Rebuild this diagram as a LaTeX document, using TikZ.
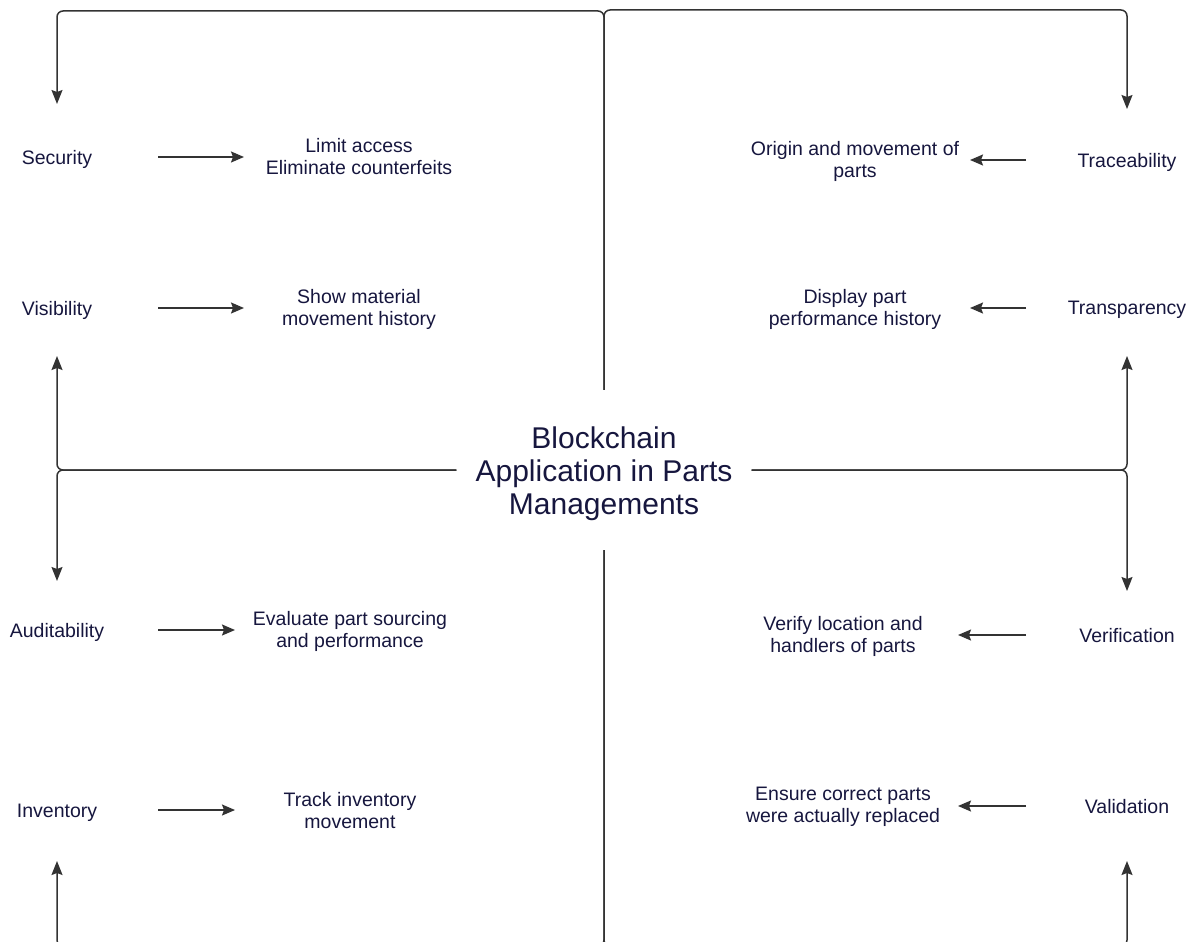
\documentclass[tikz,border=0pt]{standalone}
\usepackage{fontspec}
\setmainfont{Liberation Sans}
\usetikzlibrary{arrows.meta}
\definecolor{txt}{RGB}{22,22,62}
\definecolor{ln}{RGB}{51,51,51}
\begin{document}
\begin{tikzpicture}[x=1pt,y=-1pt,
 lbl/.style={text=txt,font=\fontsize{19.5}{22}\selectfont,align=center,inner sep=0pt},
 key/.style={lbl,anchor=base},
 trunk/.style={draw=ln,line width=1.5pt,rounded corners=6pt},
 tip/.style={-{Stealth[length=14pt,width=11pt,inset=2pt]}},
 harr/.style={draw=ln,line width=1.6pt,-{Stealth[length=13pt,width=11pt,inset=2pt]}}]
\useasboundingbox (0,0) rectangle (1191,942);
\clip (0,0) rectangle (1191,942);

% centre
\node[minimum width=295pt,minimum height=160pt,inner sep=0pt] (c) at (604,470) {};
\node[lbl,font=\fontsize{30}{33}\selectfont] (ctext) at (604,474) {Blockchain\\Application in Parts\\Managements};

% left column
\node[key] (sec) at (57,164) {Security};
\node[key] (vis) at (57,315) {Visibility};
\node[key] (aud) at (57,637) {Auditability};
\node[key] (inv) at (57,817) {Inventory};
\node[lbl] (secd) at (359,157) {Limit access\\Eliminate counterfeits};
\node[lbl] (visd) at (359,309) {Show material\\movement history};
\node[lbl] (audd) at (350,631) {Evaluate part sourcing\\and performance};
\node[lbl] (invd) at (350,811) {Track inventory\\movement};

% right column
\node[key] (tra) at (1127,167) {Traceability};
\node[key] (trp) at (1127,314) {Transparency};
\node[key] (ver) at (1127,642) {Verification};
\node[key] (val) at (1127,813) {Validation};
\node[lbl] (trad) at (855,161) {Origin and movement of\\parts};
\node[lbl] (trpd) at (855,309) {Display part\\performance history};
\node[lbl] (verd) at (843,636) {Verify location and\\handlers of parts};
\node[lbl] (vald) at (843,807) {Ensure correct parts\\were actually replaced};

% arrow tip coordinates
\coordinate (tsec) at (57,104);
\coordinate (tvis) at (57,356);
\coordinate (taud) at (57,581);
\coordinate (tinv) at (57,861);
\coordinate (ttra) at (1127,109);
\coordinate (ttrp) at (1127,356);
\coordinate (tver) at (1127,591);
\coordinate (tval) at (1127,861);

% trunks
\draw[trunk,tip] (c.north) -- (604,11) -- (57,11) -- (tsec);
\draw[trunk,tip] (c.north) -- (604,10) -- (1127,10) -- (ttra);
\draw[trunk,tip] (c.west) -- (57,470) -- (tvis);
\draw[trunk,tip] (c.west) -- (57,470) -- (taud);
\draw[trunk,tip] (c.east) -- (1127,470) -- (ttrp);
\draw[trunk,tip] (c.east) -- (1127,470) -- (tver);
\draw[trunk,tip] (c.south) -- (604,946) -- (57,946) -- (tinv);
\draw[trunk,tip] (c.south) -- (604,946) -- (1127,946) -- (tval);

% horizontal arrow ends
\coordinate (s1) at (158,157); \coordinate (e1) at (244,157);
\coordinate (s2) at (158,308); \coordinate (e2) at (244,308);
\coordinate (s3) at (158,630); \coordinate (e3) at (235,630);
\coordinate (s4) at (158,810); \coordinate (e4) at (235,810);
\coordinate (s5) at (1026,160); \coordinate (e5) at (970,160);
\coordinate (s6) at (1026,308); \coordinate (e6) at (970,308);
\coordinate (s7) at (1026,635); \coordinate (e7) at (958,635);
\coordinate (s8) at (1026,806); \coordinate (e8) at (958,806);
\foreach \i in {1,...,8} {\draw[harr] (s\i) -- (e\i);}
\end{tikzpicture}
\end{document}
